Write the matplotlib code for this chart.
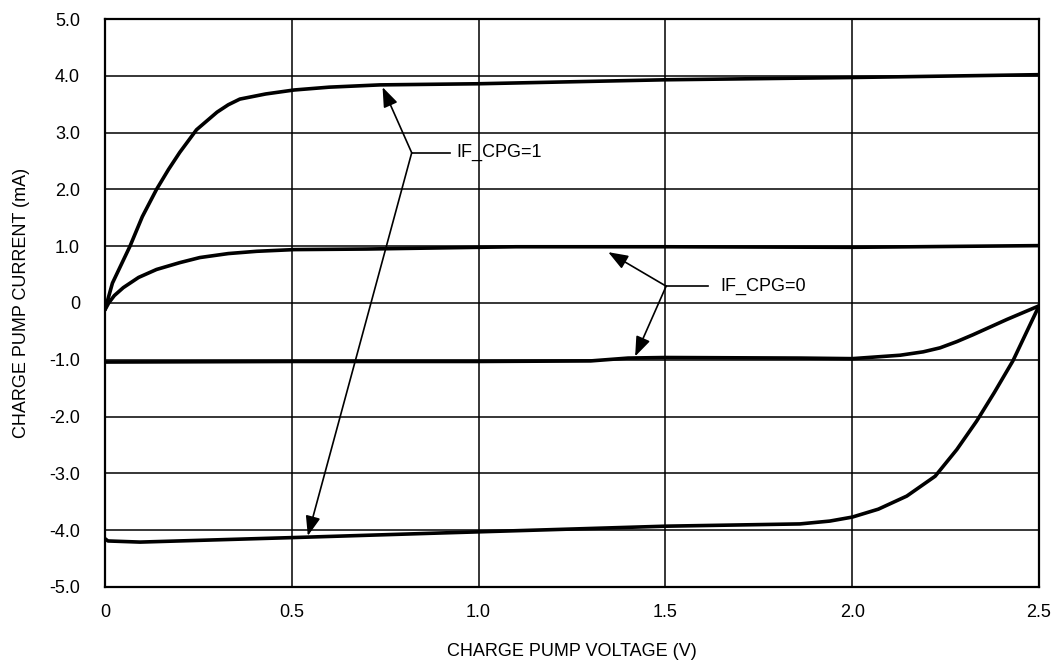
import numpy as np
import matplotlib.pyplot as plt

plt.rcParams['font.family'] = ['Liberation Sans', 'DejaVu Sans']

# IF_CPG=1, source side (upper curve)
v_cpg1_up = [0.0, 0.02, 0.067, 0.10, 0.138, 0.17, 0.20, 0.245, 0.30, 0.33, 0.361, 0.43, 0.506, 0.60, 0.736, 1.0, 1.5, 2.0, 2.5]
i_cpg1_up = [-0.12, 0.35, 1.0, 1.52, 2.0, 2.35, 2.65, 3.05, 3.36, 3.49, 3.59, 3.68, 3.75, 3.80, 3.84, 3.86, 3.93, 3.97, 4.02]

# IF_CPG=0, source side (upper curve)
v_cpg0_up = [0.0, 0.01, 0.025, 0.049, 0.09, 0.138, 0.20, 0.254, 0.33, 0.406, 0.506, 0.70, 0.897, 1.1, 1.5, 2.0, 2.5]
i_cpg0_up = [-0.12, 0.0, 0.13, 0.27, 0.45, 0.59, 0.71, 0.80, 0.87, 0.91, 0.94, 0.95, 0.97, 0.99, 0.99, 0.98, 1.01]

# IF_CPG=0, sink side (lower curve)
v_cpg0_dn = [0.0, 0.5, 1.0, 1.3, 1.4, 1.5, 1.86, 2.0, 2.128, 2.19, 2.235, 2.28, 2.323, 2.414, 2.5]
i_cpg0_dn = [-1.04, -1.03, -1.03, -1.02, -0.97, -0.96, -0.97, -0.98, -0.92, -0.86, -0.79, -0.68, -0.56, -0.29, -0.05]

# IF_CPG=1, sink side (lower curve)
v_cpg1_dn = [0.0, 0.008, 0.094, 0.30, 0.506, 0.897, 1.2, 1.5, 1.86, 1.94, 2.0, 2.07, 2.146, 2.222, 2.28, 2.333, 2.38, 2.43, 2.5]
i_cpg1_dn = [-4.15, -4.19, -4.21, -4.17, -4.13, -4.05, -3.99, -3.93, -3.89, -3.84, -3.77, -3.63, -3.40, -3.05, -2.58, -2.08, -1.58, -1.02, -0.05]

x_ticks = [0, 0.5, 1.0, 1.5, 2.0, 2.5]
x_labels = ['0', '0.5', '1.0', '1.5', '2.0', '2.5']
y_ticks = [-5, -4, -3, -2, -1, 0, 1, 2, 3, 4, 5]
y_labels = ['-5.0', '-4.0', '-3.0', '-2.0', '-1.0', '0', '1.0', '2.0', '3.0', '4.0', '5.0']

fig = plt.figure(figsize=(10.57, 6.67), dpi=100)
ax = fig.add_axes([0.0993, 0.12, 0.8837, 0.8515])

for vs, cs in [(v_cpg1_up, i_cpg1_up), (v_cpg0_up, i_cpg0_up),
               (v_cpg0_dn, i_cpg0_dn), (v_cpg1_dn, i_cpg1_dn)]:
    ax.plot(vs, cs, color='black', linewidth=2.6, solid_capstyle='round',
            solid_joinstyle='round', zorder=3)

ax.set_xlim(0, 2.5)
ax.set_ylim(-5, 5)
ax.set_xticks(x_ticks)
ax.set_xticklabels(x_labels)
ax.set_yticks(y_ticks)
ax.set_yticklabels(y_labels)
ax.tick_params(length=0, labelsize=13)
ax.tick_params(axis='x', pad=12)
ax.tick_params(axis='y', pad=18)
ax.grid(True, color='black', linewidth=1.1)
for s in ax.spines.values():
    s.set_linewidth(1.6)

ax.set_xlabel('CHARGE PUMP VOLTAGE (V)', fontsize=13, labelpad=16)
ax.set_ylabel('CHARGE PUMP CURRENT (mA)', fontsize=13, labelpad=14)

arrow = dict(arrowstyle='-|>,head_length=1.2,head_width=0.45', color='black', lw=1.2,
             shrinkA=0, shrinkB=0)

# IF_CPG=1 callout
ax.plot([0.821, 0.923], [2.645, 2.645], color='black', lw=1.2)
ax.annotate('', xy=(0.743, 3.80), xytext=(0.821, 2.645), arrowprops=arrow)
ax.annotate('', xy=(0.543, -4.10), xytext=(0.821, 2.645), arrowprops=arrow)
ax.text(0.941, 2.645, 'IF_CPG=1', fontsize=13, va='center', ha='left')

# IF_CPG=0 callout
ax.plot([1.502, 1.615], [0.296, 0.296], color='black', lw=1.2)
ax.annotate('', xy=(1.347, 0.895), xytext=(1.502, 0.296), arrowprops=arrow)
ax.annotate('', xy=(1.419, -0.94), xytext=(1.502, 0.296), arrowprops=arrow)
ax.text(1.646, 0.296, 'IF_CPG=0', fontsize=13, va='center', ha='left')

fig.savefig('out.png', dpi=100)
